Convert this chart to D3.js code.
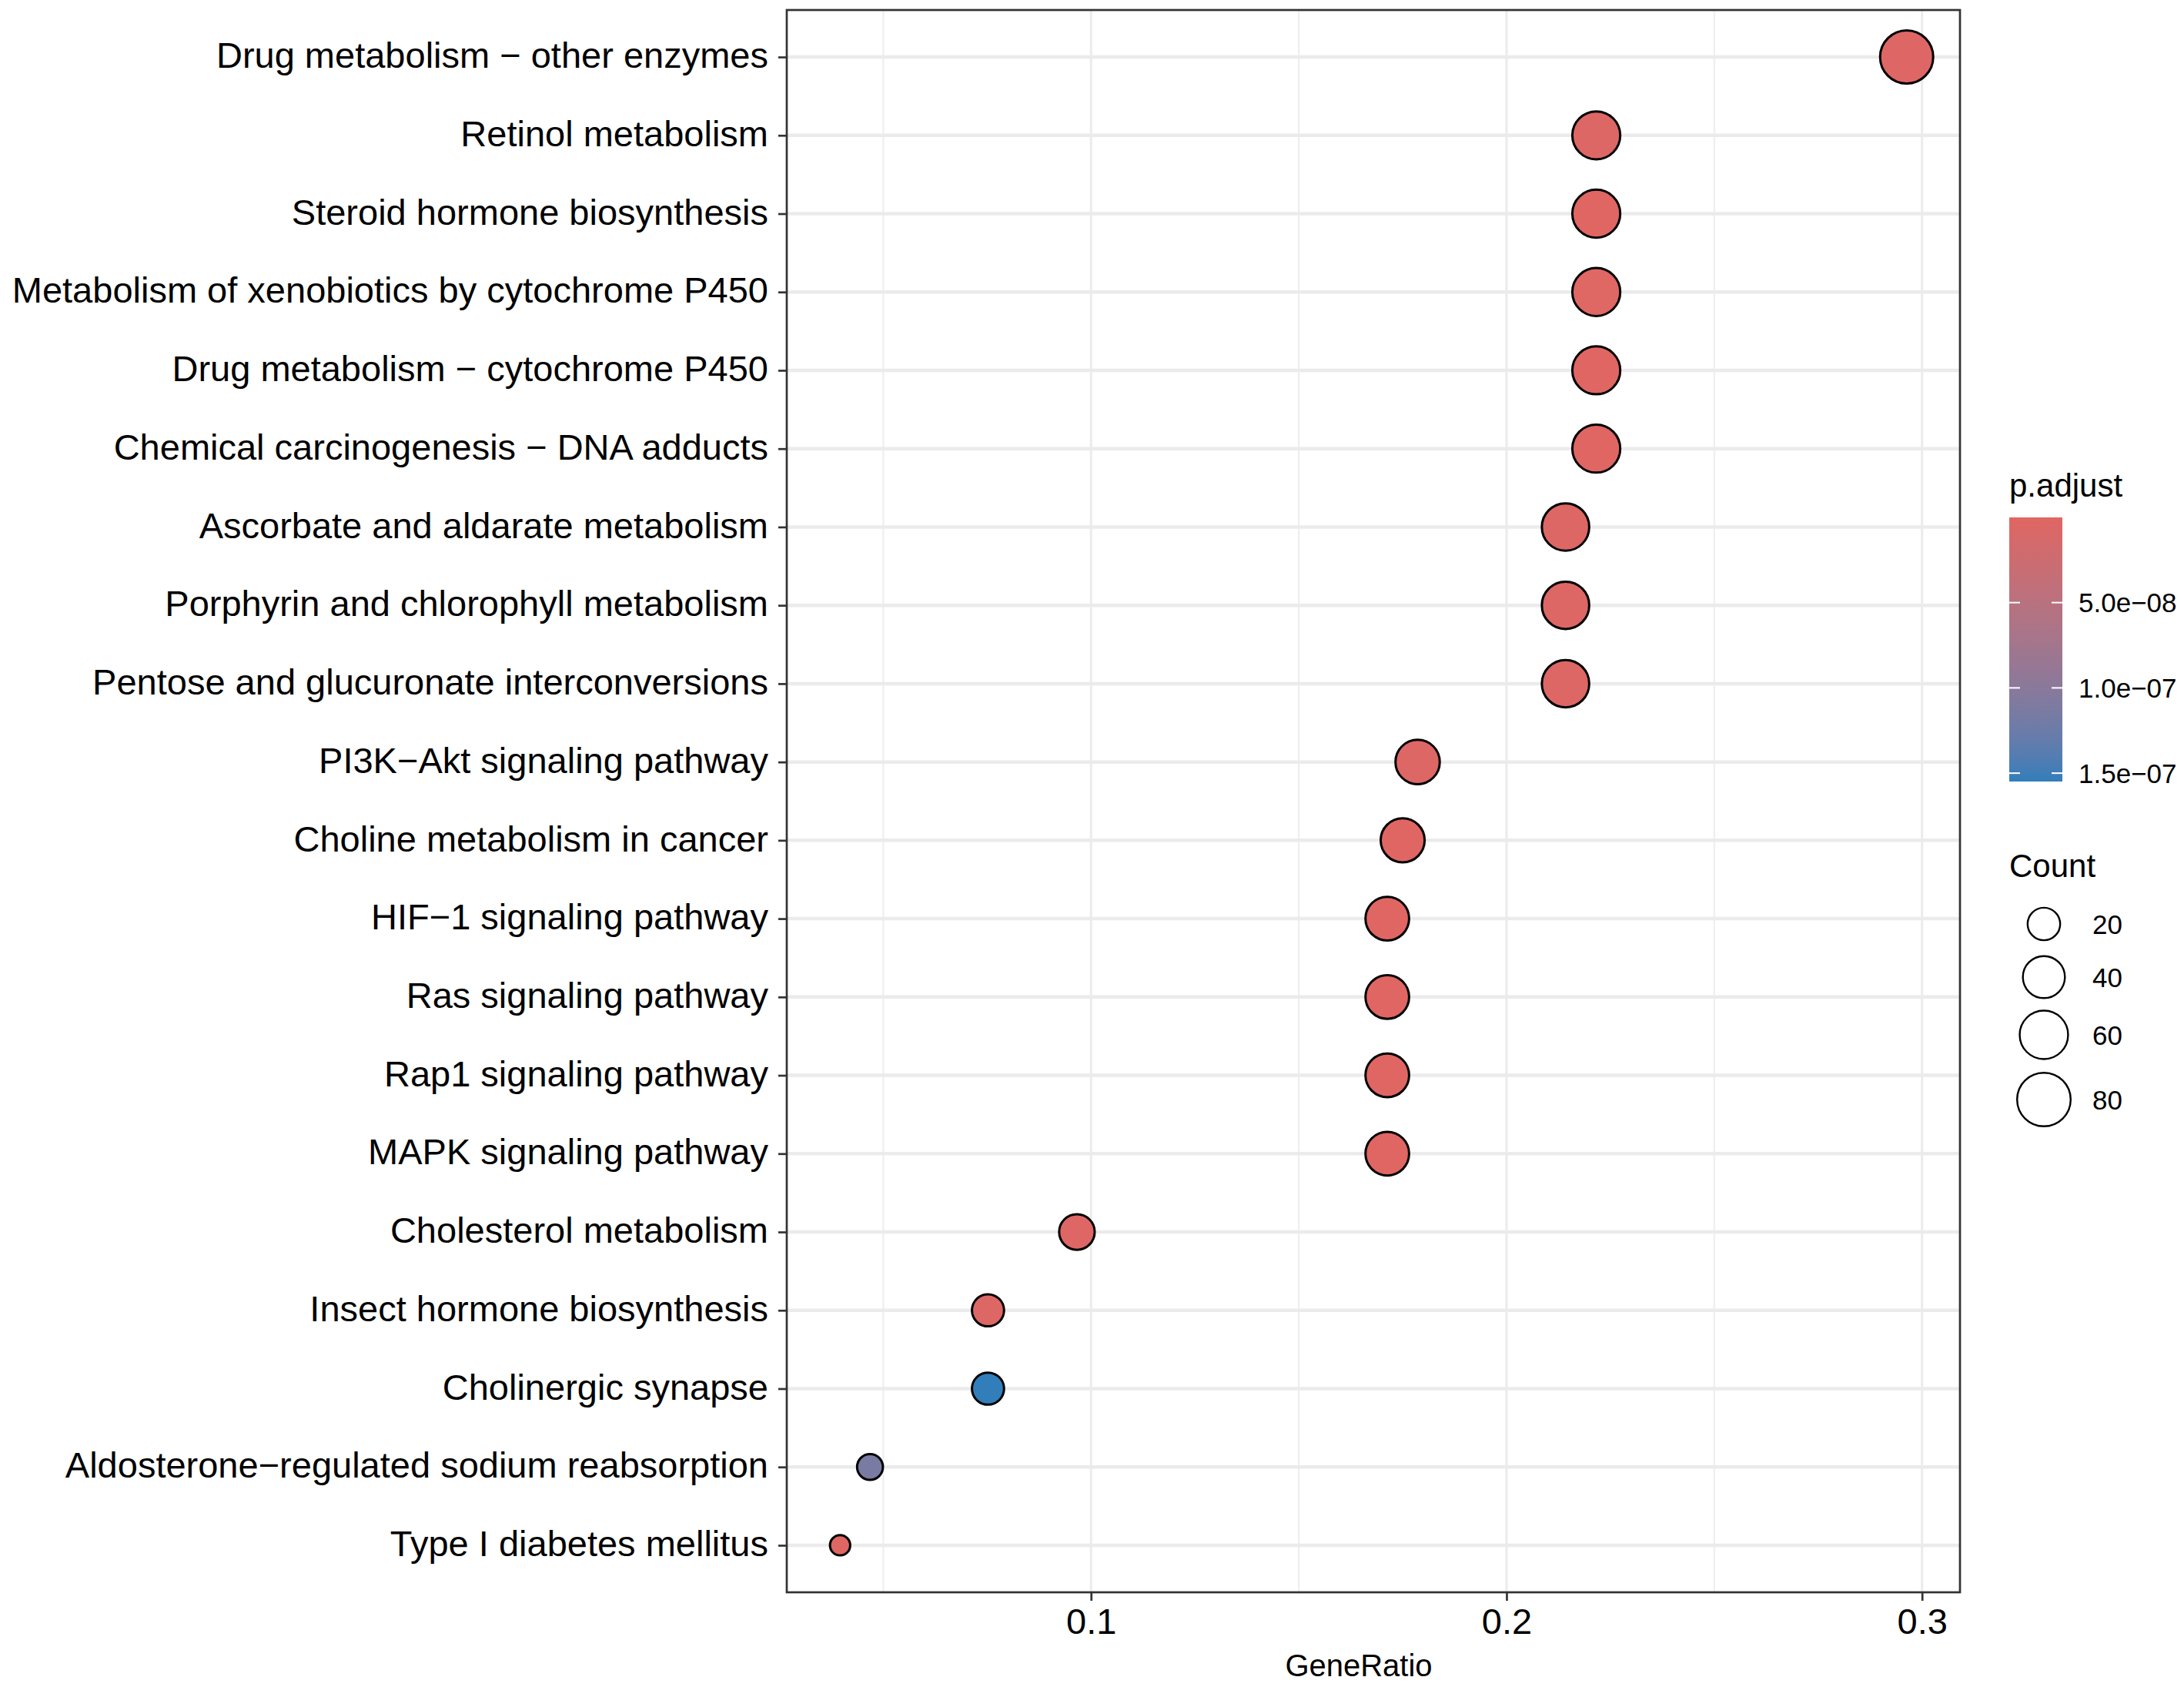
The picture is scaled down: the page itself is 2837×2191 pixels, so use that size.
<!DOCTYPE html>
<html>
<head>
<meta charset="utf-8">
<script src="https://cdn.jsdelivr.net/npm/d3@7"></script>
<style>
  body { margin: 0; background: #fff; }
  text { font-family: "Liberation Sans", Arial, Helvetica, sans-serif; }
</style>
</head>
<body>
<div id="chart-area"></div>
<script>
// pathways, top to bottom
const categories = [
  "Drug metabolism \u2212 other enzymes",
  "Retinol metabolism",
  "Steroid hormone biosynthesis",
  "Metabolism of xenobiotics by cytochrome P450",
  "Drug metabolism \u2212 cytochrome P450",
  "Chemical carcinogenesis \u2212 DNA adducts",
  "Ascorbate and aldarate metabolism",
  "Porphyrin and chlorophyll metabolism",
  "Pentose and glucuronate interconversions",
  "PI3K\u2212Akt signaling pathway",
  "Choline metabolism in cancer",
  "HIF\u22121 signaling pathway",
  "Ras signaling pathway",
  "Rap1 signaling pathway",
  "MAPK signaling pathway",
  "Cholesterol metabolism",
  "Insect hormone biosynthesis",
  "Cholinergic synapse",
  "Aldosterone\u2212regulated sodium reabsorption",
  "Type I diabetes mellitus"
];
const geneRatio = [0.2963, 0.2216, 0.2216, 0.2216, 0.2216, 0.2216, 0.2142, 0.2142, 0.2142,
  0.1786, 0.1750, 0.1713, 0.1713, 0.1713, 0.1713, 0.0966, 0.0752, 0.0752, 0.0468, 0.0396];
const counts = [80, 60, 60, 60, 60, 60, 58, 58, 58, 48, 47, 46, 46, 46, 46, 26, 20, 20, 13, 11];
const pAdjust = [3.1e-9, 3.5e-9, 1.2e-10, 2.0e-9, 1.0e-10, 1.0e-10, 4.0e-9, 4.0e-9, 4.0e-9,
  3.8e-9, 8e-11, 5e-11, 6e-11, 7e-11, 9e-11, 3.0e-9, 3.5e-9, 1.549e-7, 1.15e-7, 2.5e-9];

const xTicks = [0.1, 0.2, 0.3];
const xMinorTicks = [0.05, 0.15, 0.25];
const colorTicks = [5e-8, 1e-7, 1.5e-7];
const colorTickLabels = ["5.0e\u221208", "1.0e\u221207", "1.5e\u221207"];
const sizeBreaks = [20, 40, 60, 80];

const W = 2837, H = 2191;
const panel = {left: 1022, right: 2546, top: 13, bottom: 2068};

const data = categories.map((c, i) => ({
  name: c, ratio: geneRatio[i], count: counts[i], p: pAdjust[i]
}));

const svg = d3.select("#chart-area")
  .append("svg")
    .attr("width", W)
    .attr("height", H);

// scales (ggplot style 5% expansion)
const xExt = d3.extent(geneRatio);
const xPad = (xExt[1] - xExt[0]) * 0.05;
const x = d3.scaleLinear()
  .domain([xExt[0] - xPad, xExt[1] + xPad])
  .range([panel.left, panel.right]);

const y = d3.scalePoint()
  .domain(categories)
  .range([panel.top, panel.bottom])
  .padding(0.6);

const pExt = d3.extent(pAdjust);
const color = d3.scaleLinear()
  .domain(pExt)
  .range(["#e06663", "#327eba"])
  .interpolate(d3.interpolateLab);

// area-style size scale: diameter grows with sqrt of rescaled count
const countNorm = d3.scaleLinear().domain(d3.extent(counts)).range([0, 1]);
const diam = d3.scaleLinear().domain([0, 1]).range([29.3, 72]);
const sizeOf = c => diam(Math.sqrt(Math.max(0, countNorm(c))));

// grid
const grid = svg.append("g");
grid.selectAll(".minor")
  .data(xMinorTicks)
  .enter().append("line")
    .attr("x1", d => x(d)).attr("x2", d => x(d))
    .attr("y1", panel.top).attr("y2", panel.bottom)
    .attr("stroke", "#EDEDED").attr("stroke-width", 2);
grid.selectAll(".major")
  .data(xTicks)
  .enter().append("line")
    .attr("x1", d => x(d)).attr("x2", d => x(d))
    .attr("y1", panel.top).attr("y2", panel.bottom)
    .attr("stroke", "#EBEBEB").attr("stroke-width", 3);
grid.selectAll(".hgrid")
  .data(categories)
  .enter().append("line")
    .attr("x1", panel.left).attr("x2", panel.right)
    .attr("y1", d => y(d)).attr("y2", d => y(d))
    .attr("stroke", "#EBEBEB").attr("stroke-width", 4.5);

// points
svg.append("g")
  .selectAll("circle")
  .data(data)
  .enter().append("circle")
    .attr("cx", d => x(d.ratio))
    .attr("cy", d => y(d.name))
    .attr("r", d => sizeOf(d.count) / 2 - 1.5)
    .attr("fill", d => color(d.p))
    .attr("stroke", "#000")
    .attr("stroke-width", 3);

// panel border
svg.append("rect")
  .attr("x", panel.left).attr("y", panel.top)
  .attr("width", panel.right - panel.left)
  .attr("height", panel.bottom - panel.top)
  .attr("fill", "none")
  .attr("stroke", "#333333")
  .attr("stroke-width", 2.7);

// Y axis
const yAxis = svg.append("g")
  .attr("transform", `translate(${panel.left},0)`)
  .call(d3.axisLeft(y).tickSize(11).tickPadding(13));
yAxis.select(".domain").remove();
yAxis.selectAll(".tick line").attr("stroke", "#333333").attr("stroke-width", 2.7);
yAxis.selectAll(".tick text")
  .attr("dy", "0.29em")
  .attr("fill", "#000")
  .style("font-size", "47px")
  .style("font-family", "'Liberation Sans', Arial, sans-serif");

// X axis
const xAxis = svg.append("g")
  .attr("transform", `translate(0,${panel.bottom})`)
  .call(d3.axisBottom(x).tickValues(xTicks).tickFormat(d3.format(".1f")).tickSize(11).tickPadding(10));
xAxis.select(".domain").remove();
xAxis.selectAll(".tick line").attr("stroke", "#333333").attr("stroke-width", 2.7);
xAxis.selectAll(".tick text")
  .attr("fill", "#000")
  .style("font-size", "47px")
  .style("font-family", "'Liberation Sans', Arial, sans-serif");

svg.append("text")
  .attr("x", 1765).attr("y", 2177)
  .attr("text-anchor", "middle")
  .style("font-size", "40px")
  .text("GeneRatio");

// colour legend
const bar = {x: 2610, w: 69, top: 672, bottom: 1015};
svg.append("text")
  .attr("x", bar.x).attr("y", 645)
  .style("font-size", "42px")
  .text("p.adjust");

const grad = svg.append("defs").append("linearGradient")
  .attr("id", "pgrad")
  .attr("x1", 0).attr("y1", 0).attr("x2", 0).attr("y2", 1);
grad.selectAll("stop")
  .data(d3.range(0, 1.0001, 0.05))
  .enter().append("stop")
    .attr("offset", d => d)
    .attr("stop-color", d => color(pExt[0] + d * (pExt[1] - pExt[0])));

svg.append("rect")
  .attr("x", bar.x).attr("y", bar.top)
  .attr("width", bar.w).attr("height", bar.bottom - bar.top)
  .attr("fill", "url(#pgrad)");

const yBar = d3.scaleLinear().domain(pExt).range([bar.top, bar.bottom]);
const cTicks = svg.append("g").selectAll("g")
  .data(colorTicks)
  .enter().append("g");
cTicks.append("line")
  .attr("x1", bar.x).attr("x2", bar.x + 14)
  .attr("y1", d => yBar(d)).attr("y2", d => yBar(d))
  .attr("stroke", "#fff").attr("stroke-width", 2);
cTicks.append("line")
  .attr("x1", bar.x + bar.w - 14).attr("x2", bar.x + bar.w)
  .attr("y1", d => yBar(d)).attr("y2", d => yBar(d))
  .attr("stroke", "#fff").attr("stroke-width", 2);
cTicks.append("text")
  .attr("x", 2700)
  .attr("y", d => yBar(d) + 12.5)
  .style("font-size", "35px")
  .text((d, i) => colorTickLabels[i]);

// size legend
svg.append("text")
  .attr("x", bar.x).attr("y", 1139)
  .style("font-size", "42px")
  .text("Count");

const keyY = [1200, 1269, 1344, 1428];
const sKeys = svg.append("g").selectAll("g")
  .data(sizeBreaks)
  .enter().append("g");
sKeys.append("circle")
  .attr("cx", 2655)
  .attr("cy", (d, i) => keyY[i])
  .attr("r", d => sizeOf(d) / 2 - 1.2)
  .attr("fill", "#fff")
  .attr("stroke", "#000")
  .attr("stroke-width", 2.4);
sKeys.append("text")
  .attr("x", 2718)
  .attr("y", (d, i) => keyY[i] + 12.5)
  .style("font-size", "35px")
  .text(d => d);
</script>
</body>
</html>
